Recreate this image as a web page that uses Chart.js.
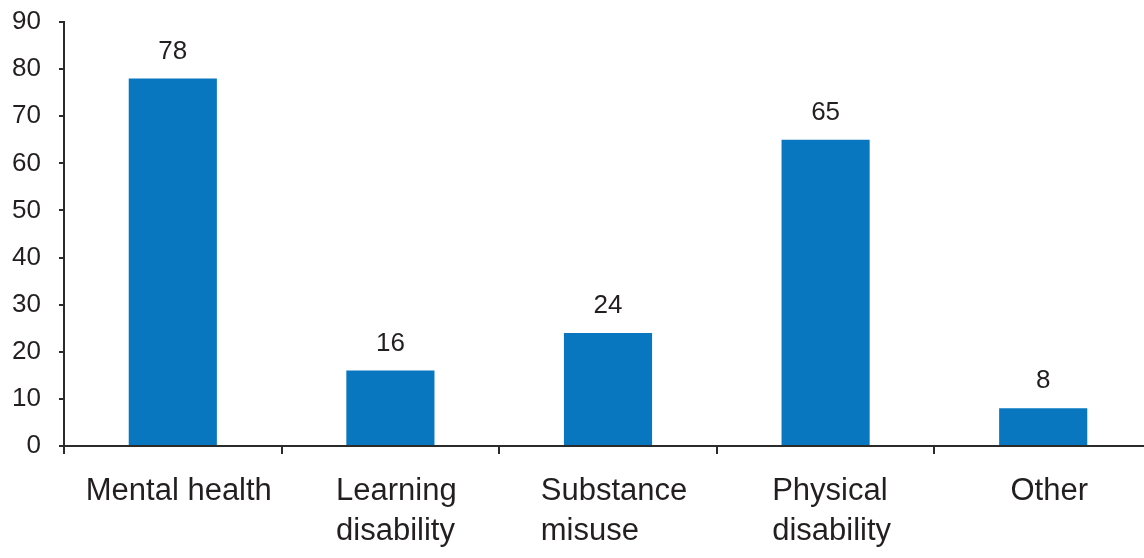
<!DOCTYPE html>
<html>
<head>
<meta charset="utf-8">
<script src="https://cdn.jsdelivr.net/npm/chart.js@4"></script>
<style>
  html, body { margin: 0; padding: 0; background: #fff; overflow: hidden; }
  #wrap { width: 1152px; height: 558px; }
</style>
</head>
<body>
<div id="wrap"><canvas id="myChart" width="1152" height="558"></canvas></div>
<script>
const categories = [
  "Mental health",
  ["Learning", "disability"],
  ["Substance", "misuse"],
  ["Physical", "disability"],
  "Other",
];
const counts = [78, 16, 24, 65, 8];
const yTicks = [0, 10, 20, 30, 40, 50, 60, 70, 80, 90];

const textColor = "#231f20";
const axisColor = "#2b2b2b";
const fontFamily = "'Liberation Sans', Arial, sans-serif";

// writes the count above each bar
const valueLabels = {
  id: "valueLabels",
  afterDatasetsDraw(chart) {
    const ctx = chart.ctx;
    const meta = chart.getDatasetMeta(0);
    ctx.save();
    ctx.fillStyle = textColor;
    ctx.font = "26px " + fontFamily;
    ctx.textAlign = "center";
    ctx.textBaseline = "alphabetic";
    meta.data.forEach((bar, i) => {
      ctx.fillText(String(counts[i]), bar.x, bar.y - 20);
    });
    ctx.restore();
  },
};

// category names: block centred on the tick, lines left-aligned
const categoryLabels = {
  id: "categoryLabels",
  afterDraw(chart) {
    const ctx = chart.ctx;
    const xs = chart.scales.x;
    ctx.save();
    ctx.fillStyle = textColor;
    ctx.font = "31px " + fontFamily;
    ctx.textAlign = "left";
    ctx.textBaseline = "alphabetic";
    categories.forEach((label, i) => {
      const lines = Array.isArray(label) ? label : [label];
      const w = Math.max(...lines.map((l) => ctx.measureText(l).width));
      const left = xs.getPixelForTick(i) - w / 2 + 6;
      lines.forEach((line, j) => {
        ctx.fillText(line, left, xs.top + 54 + j * 40);
      });
    });
    ctx.restore();
  },
};

var ctx = document.getElementById("myChart").getContext("2d");
var myChart = new Chart(ctx, {
  type: "bar",
  data: {
    labels: categories,
    datasets: [
      {
        data: counts,
        backgroundColor: "#0877bf",
        categoryPercentage: 1,
        barPercentage: 0.405,
      },
    ],
  },
  options: {
    responsive: false,
    animation: false,
    layout: { padding: { top: 22, left: 0, right: 0, bottom: 0 } },
    scales: {
      x: {
        offset: true,
        afterFit: (scale) => {
          scale.height = 112;
          scale.paddingLeft = 0;
          scale.paddingRight = 0;
        },
        border: { color: axisColor, width: 2 },
        grid: {
          offset: true,
          drawOnChartArea: false,
          color: axisColor,
          lineWidth: 2,
          tickLength: 8,
        },
        ticks: {
          color: "rgba(0,0,0,0)",
          font: { family: fontFamily, size: 30 },
          maxRotation: 0,
          autoSkip: false,
        },
      },
      y: {
        min: 0,
        max: 90,
        afterBuildTicks: (scale) => {
          scale.ticks = yTicks.map((v) => ({ value: v }));
        },
        afterFit: (scale) => {
          scale.width = 64;
          scale.paddingTop = 0;
          scale.paddingBottom = 0;
        },
        border: { color: axisColor, width: 2 },
        grid: {
          drawOnChartArea: false,
          color: axisColor,
          lineWidth: 2,
          tickLength: 5,
        },
        ticks: {
          color: textColor,
          font: { family: fontFamily, size: 26 },
          padding: 18,
        },
      },
    },
    plugins: {
      legend: { display: false },
      tooltip: { enabled: false },
    },
  },
  plugins: [valueLabels, categoryLabels],
});
</script>
</body>
</html>
